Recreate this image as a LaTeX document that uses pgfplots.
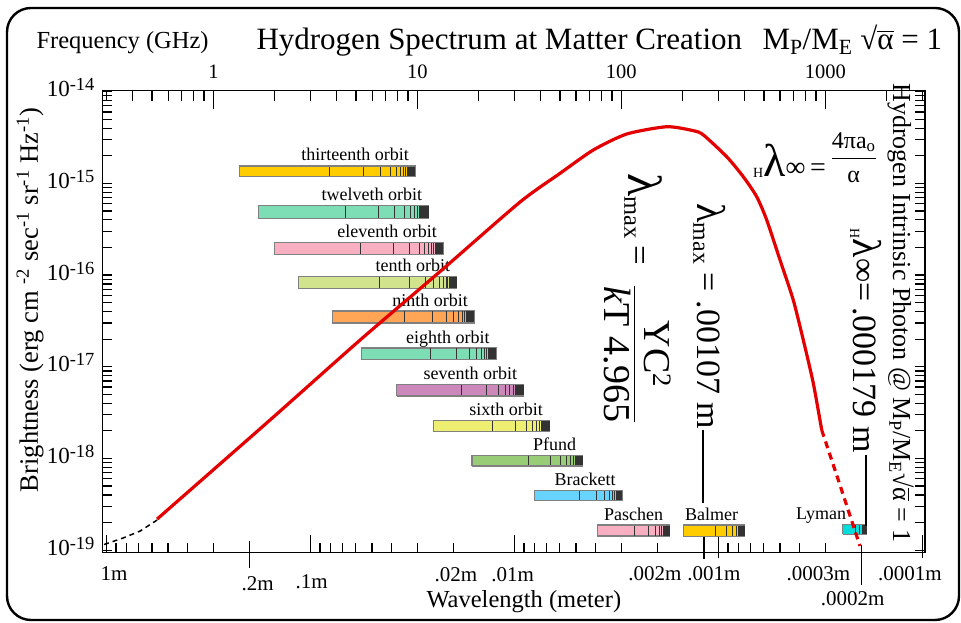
\documentclass[border=0pt]{standalone}
\usepackage{amsmath}
\usepackage{fontspec}
\setmainfont{Liberation Serif}
\usepackage{pgfplots}
\usepackage{pgfplotstable}
\pgfplotsset{compat=1.18}

\definecolor{curvered}{RGB}{228,0,0}
\definecolor{bargold}{RGB}{255,204,0}
\definecolor{barmint}{RGB}{125,221,180}
\definecolor{barrose}{RGB}{247,175,193}
\definecolor{barolive}{RGB}{210,227,142}
\definecolor{barorange}{RGB}{255,165,85}
\definecolor{barmauve}{RGB}{204,136,187}
\definecolor{barlemon}{RGB}{238,238,112}
\definecolor{barleaf}{RGB}{153,204,119}
\definecolor{barsky}{RGB}{102,212,255}
\definecolor{baraqua}{RGB}{0,221,221}

\newcommand\fs[1]{\fontsize{#1pt}{#1pt}\selectfont}
\def\Ylow{9.37e-20}
\def\Yhigh{1.028e-14}

% series lines: upper level m, and place as a fraction of the bar length from its right end
\pgfplotstableread{
m fr
4 0.49
5 0.297
6 0.2
7 0.145
8 0.11
9 0.086
10 0.069
11 0.057
12 0.048
13 0.041
14 0.035
15 0.0305
16 0.027
17 0.024
18 0.021
19 0.019
20 0.017
22 0.014
24 0.012
26 0.010
29 0.008
34 0.006
42 0.004
}\linefracs

% color, f left, f right, y top, y bottom, half height, label, label xshift
\newcommand\specbar[8]{%
  \addplot[fill=#1, draw=black!50, line width=1.1pt]
    coordinates {(#2,#5) (#3,#5) (#3,#4) (#2,#4) (#2,#5)};
  \addplot[only marks, mark=|, mark size=#6pt, mark options={line width=0.65pt, draw=black!80}]
    table[x expr={#3*(#2/#3)^(\thisrow{fr})}, y expr={sqrt(#4*#5)}] {\linefracs};
  \node[anchor=base east, font=\fs{18}, xshift=#8pt, yshift=5pt] at (axis cs:#3,#4) {#7};
}
\newcommand\ylab[2]{%
  \node[anchor=base east, font=\fs{23}, xshift=-4.5pt, yshift=-5pt] at (axis cs:0.286,#1)
    {10\raisebox{6pt}{\fs{18.5}#2}};
}

\begin{document}
\begin{tikzpicture}
\useasboundingbox (0,0) rectangle (961pt,623pt);
\draw[line width=2.4pt, rounded corners=24pt] (7pt,3pt) rectangle (959pt,615pt);

% data axis: frequency (GHz) against brightness
\begin{axis}[
  scale only axis, width=822.5pt, height=462.2pt,
  at={(102.5pt,70.3pt)}, anchor=south west,
  xmode=log, ymode=log, xmin=0.286, xmax=3082, ymin=9.37e-20, ymax=1.028e-14,
  axis line style={line width=1.2pt, black},
  tick style={line width=1.2pt, black},
  clip=false,
  xtick=\empty,
  ytick={1e-19,1e-18,1e-17,1e-16,1e-15,1e-14},
  yticklabels={},
  minor ytick={2e-19,3e-19,4e-19,5e-19,6e-19,7e-19,8e-19,9e-19,
               2e-18,3e-18,4e-18,5e-18,6e-18,7e-18,8e-18,9e-18,
               2e-17,3e-17,4e-17,5e-17,6e-17,7e-17,8e-17,9e-17,
               2e-16,3e-16,4e-16,5e-16,6e-16,7e-16,8e-16,9e-16,
               2e-15,3e-15,4e-15,5e-15,6e-15,7e-15,8e-15,9e-15},
  ytick pos=both,
  major tick length=10pt, minor tick length=10pt,
]
\ylab{1e-19}{-19}
\ylab{1e-18}{-18}
\ylab{1e-17}{-17}
\ylab{1e-16}{-16}
\ylab{1e-15}{-15}
\ylab{1e-14}{-14}

\specbar{bargold}{1.341}{9.777}{1.545e-15}{1.180e-15}{4.8}{thirteenth orbit}{-3}
\specbar{barmint}{1.662}{11.37}{5.75e-16}{4.11e-16}{6.2}{twelveth orbit}{-3}
\specbar{barrose}{1.984}{13.41}{2.25e-16}{1.663e-16}{5.5}{eleventh orbit}{-3}
\specbar{barolive}{2.610}{15.60}{9.68e-17}{7.16e-17}{5.5}{tenth orbit}{-3}
\specbar{barorange}{3.831}{19.03}{4.05e-17}{3.0e-17}{5.5}{ninth orbit}{-3}
\specbar{barmint}{5.297}{24.31}{1.60e-17}{1.205e-17}{5.2}{eighth orbit}{-3}
\specbar{barmauve}{7.925}{33.23}{6.43e-18}{4.80e-18}{5.3}{seventh orbit}{-3}
\specbar{barlemon}{12.03}{44.37}{2.60e-18}{1.954e-18}{5.2}{sixth orbit}{-3}
\specbar{barleaf}{18.54}{64.69}{1.081e-18}{8.26e-19}{4.8}{Pfund}{-3}
\specbar{barsky}{37.63}{100.8}{4.49e-19}{3.46e-19}{4.7}{Brackett}{-3}
\specbar{barrose}{76.28}{172.7}{1.879e-19}{1.426e-19}{5.0}{Paschen}{-3}
\specbar{bargold}{202.2}{402.6}{1.879e-19}{1.40e-19}{5.3}{Balmer}{-3}
\specbar{baraqua}{1217}{1596}{1.91e-19}{1.486e-19}{4.5}{Lyman}{-17}

\addplot[black, line width=1.5pt, dash pattern=on 5pt off 4pt]
  coordinates {(0.2911,1.151e-19) (0.3607,1.355e-19) (0.4371,1.614e-19) (0.5297,2.128e-19)};
\addplot[curvered, line width=3.2pt, line join=round, smooth, tension=0.4]
  coordinates {(0.5297,2.18e-19) (1.896,2.624e-18) (5.237,1.954e-17) (12.92,1.092e-16)
    (31.87,6.25e-16) (50.06,1.285e-15) (72.9,2.31e-15) (106.3,3.45e-15)
    (166.9,4.14e-15) (225.4,3.75e-15) (252.4,3.37e-15) (328.6,1.95e-15) (396.3,1.18e-15)
    (461.1,7.14e-16) (516.2,3.98e-16) (599.8,1.459e-16) (696.7,5.33e-17) (780.2,1.954e-17)
    (873.4,6.59e-18) (960.3,2.04e-18)};
\addplot[curvered, line width=3.2pt, dash pattern=on 7pt off 5pt]
  coordinates {(960.3,2.04e-18) (1180,5.13e-19) (1479,1.11e-19)};
\end{axis}

% top axis: frequency ticks
\begin{axis}[
  scale only axis, width=822.5pt, height=462.2pt,
  at={(102.5pt,70.3pt)}, anchor=south west,
  xmode=log, ymode=log, xmin=0.286, xmax=3082, ymin=9.37e-20, ymax=1.028e-14,
  axis line style={line width=1.2pt, black},
  tick style={line width=1.2pt, black},
  clip=false, hide y axis,
  xtick={1,10,100,1000},
  minor xtick={0.3,0.4,0.5,0.6,0.7,0.8,0.9,2,3,4,5,6,7,8,9,20,30,40,50,60,70,80,90,
               200,300,400,500,600,700,800,900,2000,3000},
  xtick pos=right, xticklabels={},
  major tick length=18pt, minor tick length=10pt,
]
\node[anchor=base, font=\fs{20.5}, yshift=12.2pt] at (axis cs:1,\Yhigh) {1};
\node[anchor=base, font=\fs{20.5}, yshift=12.2pt] at (axis cs:10,\Yhigh) {10};
\node[anchor=base, font=\fs{20.5}, yshift=12.2pt] at (axis cs:100,\Yhigh) {100};
\node[anchor=base, font=\fs{20.5}, yshift=12.2pt] at (axis cs:1000,\Yhigh) {1000};
\end{axis}

% bottom axis: wavelength ticks
\begin{axis}[
  scale only axis, width=822.5pt, height=462.2pt,
  at={(102.5pt,70.3pt)}, anchor=south west,
  xmode=log, ymode=log, xmin=9.727e-5, xmax=1.0482, ymin=9.37e-20, ymax=1.028e-14,
  x dir=reverse,
  axis line style={line width=1.2pt, black},
  tick style={line width=1.2pt, black},
  clip=false, hide y axis,
  xtick={1,0.1,0.01},
  minor xtick={0.9,0.8,0.7,0.6,0.5,0.4,0.3,0.09,0.08,0.07,0.06,0.05,0.04,0.03,0.02,
               0.009,0.008,0.007,0.006,0.005,0.004,0.003,0.002,
               0.0009,0.0008,0.0007,0.0006,0.0005,0.0004,0.0003},
  xtick pos=left, xticklabels={},
  major tick length=18pt, minor tick length=10pt,
]
\draw[line width=1.2pt] ([yshift=11.7pt]axis cs:0.2,\Ylow) -- ([yshift=-15pt]axis cs:0.2,\Ylow);
\draw[line width=1.2pt] ([yshift=16pt]axis cs:0.001,\Ylow) -- ([yshift=-5.3pt]axis cs:0.001,\Ylow);
\draw[line width=1.2pt] ([yshift=7.7pt]axis cs:0.0002,\Ylow) -- ([yshift=-32.3pt]axis cs:0.0002,\Ylow);
\draw[line width=1.2pt] ([yshift=17.7pt]axis cs:0.0001,\Ylow) -- ([yshift=-5.3pt]axis cs:0.0001,\Ylow);
\node[anchor=base, font=\fs{21}, xshift=7.4pt, yshift=-27.3pt] at (axis cs:1,\Ylow) {1m};
\node[anchor=base, font=\fs{21}, xshift=8.3pt, yshift=-37.3pt] at (axis cs:0.2,\Ylow) {.2m};
\node[anchor=base, font=\fs{21}, xshift=1pt, yshift=-35.3pt] at (axis cs:0.1,\Ylow) {.1m};
\node[anchor=base, font=\fs{21}, xshift=2.6pt, yshift=-28.3pt] at (axis cs:0.02,\Ylow) {.02m};
\node[anchor=base, font=\fs{21}, xshift=-2pt, yshift=-28.3pt] at (axis cs:0.01,\Ylow) {.01m};
\node[anchor=base, font=\fs{21}, xshift=-2.3pt, yshift=-27.3pt] at (axis cs:0.002,\Ylow) {.002m};
\node[anchor=base, font=\fs{21}, xshift=-4.6pt, yshift=-27.3pt] at (axis cs:0.001,\Ylow) {.001m};
\node[anchor=base, font=\fs{21}, xshift=-6.7pt, yshift=-27.3pt] at (axis cs:0.0003,\Ylow) {.0003m};
\node[anchor=base, font=\fs{21}, xshift=-8.5pt, yshift=-52.3pt] at (axis cs:0.0002,\Ylow) {.0002m};
\node[anchor=base, font=\fs{21}, xshift=-12.6pt, yshift=-27.3pt] at (axis cs:0.0001,\Ylow) {.0001m};
\end{axis}

% titles and labels
\node[anchor=base west, font=\fs{24.5}] at (33pt,574.7pt) {Frequency (GHz)};
\node[anchor=base west, font=\fs{31}] at (253pt,573pt) {Hydrogen Spectrum at Matter Creation};
\node[anchor=base west, font=\fs{31}] at (759pt,573.7pt)
  {M\textsubscript{P}/M\textsubscript{E} √$\overline{\text{α}}$ = 1};
\node[rotate=90, anchor=base, font=\fs{26.5}] at (38pt,323pt)
  {Brightness (erg cm \textsuperscript{-2} sec\textsuperscript{-1} sr\textsuperscript{-1} Hz\textsuperscript{-1})};
\node[anchor=base west, font=\fs{24.5}] at (423pt,15pt) {Wavelength (meter)};
\node[rotate=-90, anchor=base west, font=\fs{26}] at (893pt,543pt)
  {Hydrogen Intrinsic Photon @ M\textsubscript{P}/M\textsubscript{E}√$\overline{\text{α}}$ = 1};

% formulas
\node[rotate=-90, anchor=base west, font=\fs{35}] at (628pt,453pt)
  {{\fs{48}λ}\textsubscript{max}\hspace{6pt}=\hspace{20pt}{\fs{38}$\dfrac{\text{YC\textsuperscript{2}}}{\text{\textit{k}T 4.965}}$}};
\node[rotate=-90, anchor=base west, font=\fs{34}] at (697pt,423pt)
  {{\fs{40}λ}\textsubscript{max} = .00107 m};
\node[rotate=-90, anchor=base west, font=\fs{34}] at (853pt,398pt)
  {\raisebox{-3pt}{\fs{14}H}{\fs{40}λ}∞=\,.000179 m};
\node[anchor=base west, font=\fs{28}, inner sep=1pt] at (752pt,446pt)
  {\raisebox{-1pt}{\fs{14}H}{\fs{46}λ}∞\,=\,\raisebox{12pt}{\fs{24}$\dfrac{\text{4πa\textsubscript{o}}}{\text{α}}$}};

% pointer lines
\draw[line width=1.2pt] (703pt,193pt) -- (703pt,120pt);
\draw[line width=1.2pt] (704pt,86pt) -- (704pt,64pt);
\draw[line width=1.2pt] (866pt,168pt) -- (866pt,97pt);
\end{tikzpicture}
\end{document}
